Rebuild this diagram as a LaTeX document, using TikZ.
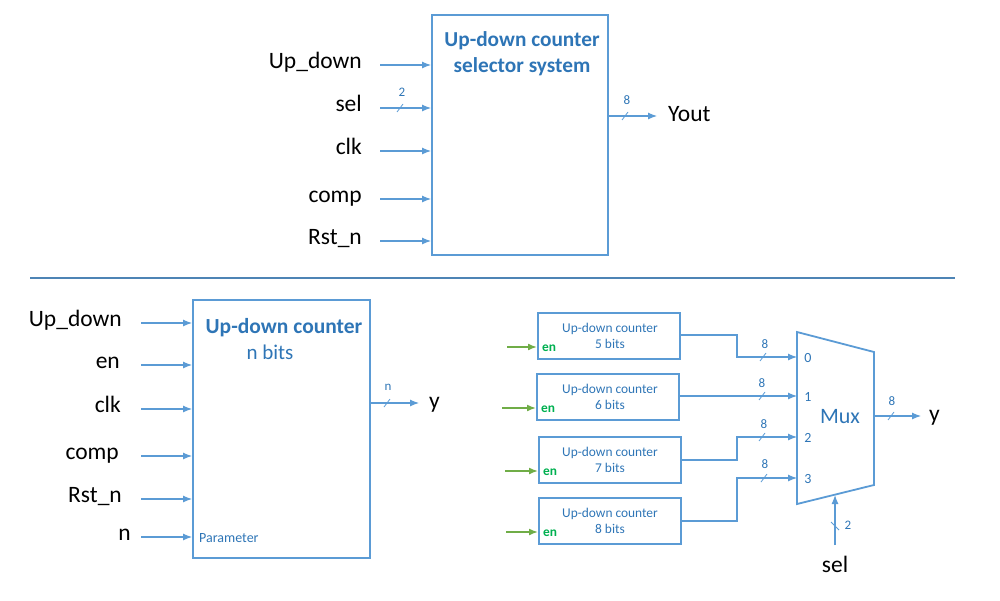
\documentclass[tikz,border=0pt]{standalone}
\usepackage{fontspec}
\setmainfont{Carlito}
\usetikzlibrary{arrows.meta,calc}
\definecolor{ln}{HTML}{5B9BD5}
\definecolor{tb}{HTML}{2E75B6}
\definecolor{gr}{HTML}{70AD47}
\definecolor{gt}{HTML}{00B050}
\tikzset{
  box/.style={draw=ln,line width=1.8pt,inner sep=0pt,anchor=north west},
  arr/.style={draw=ln,line width=1.1pt,-{Latex[length=9pt,width=7pt]}},
  wire/.style={draw=ln,line width=1.1pt},
  garr/.style={draw=gr,line width=1.6pt,-{Latex[length=9pt,width=7pt]}},
  lbl/.style={font=\fontsize{23.5}{25}\selectfont,inner sep=0pt},
  bus/.style={font=\fontsize{13}{14}\selectfont,text=tb,inner sep=0pt},
  small/.style={font=\fontsize{13.4}{15}\selectfont,text=tb,inner sep=0pt,anchor=base},
}
\newcommand\myslash[2]{\draw[wire,line width=0.8pt] (#1-3,#2+4) -- (#1+3,#2-4);}
\begin{document}
\begin{tikzpicture}[x=1pt,y=-1pt]
\useasboundingbox (0,0) rectangle (1000,600);
% ---------- top system ----------
\node[box,minimum width=176pt,minimum height=240pt] (top) at (431,14) {};
\node[font=\bfseries\fontsize{21.3}{23}\selectfont,text=tb,anchor=base] (tt1) at (522,46) {Up-down counter};
\node[font=\bfseries\fontsize{21.3}{23}\selectfont,text=tb,anchor=base] (tt2) at (522,72) {selector system};
\foreach \nm/\txt/\yy in {ud/Up\_down/65, sel/sel/108, clk/clk/151, comp/comp/199, rst/Rst\_n/241}{
  \node[lbl,anchor=base east] (t\nm) at (362,\yy+3) {\txt};
  \coordinate (s\nm) at (380,\yy);
  \draw[arr] (s\nm) -- (s\nm -| top.west);
}
\myslash{400}{108}
\node[bus] (tsel2) at (402,92) {2};
\coordinate (tout) at (607,116);
\coordinate (toutend) at (657,116);
\node[lbl,anchor=base west] (yout) at (668,121) {Yout};
\draw[arr] (tout) -- (toutend);
\myslash{625}{116}
\node[bus] (t8) at (627,100) {8};
% ---------- separator ----------
\coordinate (sepA) at (30,278);
\coordinate (sepB) at (955,278);
\draw[draw=ln!85!black,line width=1.8pt] (sepA) -- (sepB);
% ---------- bottom-left counter ----------
\node[box,minimum width=177pt,minimum height=258pt] (cnt) at (192,299) {};
\node[font=\bfseries\fontsize{21.5}{23}\selectfont,text=tb,anchor=base] (ct1) at (284,333) {Up-down counter};
\node[font=\fontsize{21}{23}\selectfont,text=tb,anchor=base] (ct2) at (270,359) {n bits};
\node[font=\fontsize{14}{16}\selectfont,text=tb,anchor=base west,inner sep=0pt] (par) at (199,542) {Parameter};
\foreach \nm/\txt/\yy/\xr in {ud/Up\_down/323/122, en/en/365/120, clk/clk/409/121, comp/comp/456/119, rst/Rst\_n/499/122, n/n/537/131}{
  \node[lbl,anchor=base east] (b\nm) at (\xr,\yy+3) {\txt};
  \coordinate (c\nm) at (141,\yy);
  \draw[arr] (c\nm) -- (c\nm -| cnt.west);
}
\coordinate (cout) at (369,403);
\node[lbl,anchor=base west] (cy) at (429,408) {y};
\coordinate (cyend) at (419,403);
\draw[arr] (cout) -- (cyend);
\myslash{387}{403}
\node[bus] (cn) at (388,387) {n};
% ---------- bottom-right: counters + mux ----------
\foreach \i/\bits/\xl/\yt/\xe in {1/5/537/312/507, 2/6/536/373/502, 3/7/538/436/505, 4/8/538/497/506}{
  \node[box,minimum width=142pt,minimum height=46pt] (k\i) at (\xl,\yt) {};
  \node[small] (k\i a) at (610,\yt+20) {Up-down counter};
  \node[small] (k\i b) at (610,\yt+36) {\bits\ bits};
  \node[font=\bfseries\fontsize{13.4}{15}\selectfont,text=gt,inner sep=0pt,anchor=base west] (k\i en) at (\xl+5,\yt+39) {en};
  \coordinate (g\i) at (\xe,\yt+35);
  \draw[garr] (g\i) -- (g\i -| k\i.west);
}
% mux
\coordinate (m1) at (797,332);
\coordinate (m2) at (874,352);
\coordinate (m3) at (874,485);
\coordinate (m4) at (797,504);
\draw[draw=ln,line width=1.8pt,line join=miter] (m1) -- (m2) -- (m3) -- (m4) -- cycle;
\node[font=\fontsize{22}{24}\selectfont,text=tb,inner sep=0pt] (mux) at (840,417) {Mux};
\foreach \d/\yy in {0/357,1/396,2/437,3/478}{
  \coordinate (mi\d) at (797,\yy);
  \node[font=\fontsize{14}{15}\selectfont,text=tb,inner sep=0pt] (ml\d) at (808,\yy+1) {\d};
}
\draw[arr] (k1.east |- 0,335) -| (737,357) -- (mi0);
\draw[arr] (k2.east |- 0,396) -- (mi1);
\draw[arr] (k3.east |- 0,460) -| (737,437) -- (mi2);
\draw[arr] (k4.east |- 0,521) -| (737,478) -- (mi3);
\myslash{763}{357}\node[bus] (b80) at (765,344) {8};
\myslash{762}{396}\node[bus] (b81) at (762,383) {8};
\myslash{762}{437}\node[bus] (b82) at (764,424) {8};
\myslash{764}{478}\node[bus] (b83) at (765,464) {8};
% mux output
\coordinate (mout) at (874,416);
\coordinate (myend) at (921,416);
\node[lbl,anchor=base west] (my) at (929,421) {y};
\draw[arr] (mout) -- (myend);
\myslash{891}{416}
\node[bus] (b8o) at (892,401) {8};
% sel
\coordinate (selbot) at (835,545);
\coordinate (seltop) at (835,495);
\draw[arr] (selbot) -- (seltop);
\draw[wire,line width=0.8pt] (831,522) -- (839,530);
\node[bus] (s2) at (848,525) {2};
\node[lbl,anchor=base] (selL) at (835,572) {sel};
\end{tikzpicture}
\end{document}
